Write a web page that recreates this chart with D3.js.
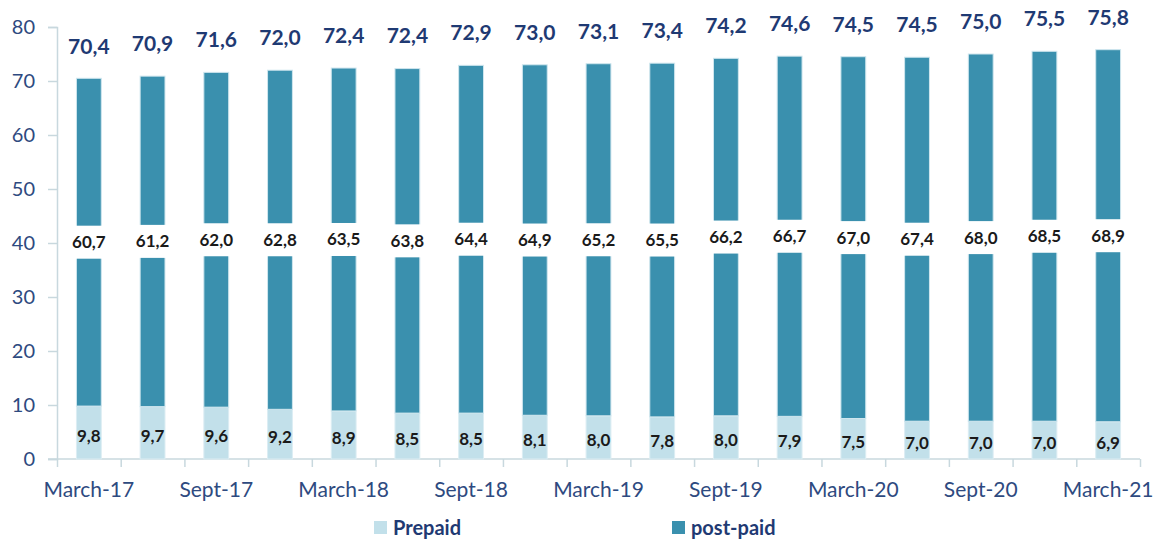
<!doctype html>
<html lang="en">
<head>
<meta charset="utf-8">
<title>Prepaid vs post-paid</title>
<script src="https://d3js.org/d3.v7.min.js"></script>
<style>
  body { margin: 0; background: #fff; }
  text { font-family: Lato, "Open Sans", sans-serif; }
</style>
</head>
<body>
<svg id="chart" width="1163" height="543"></svg>
<script>
// data
var periods = ["March-17","June-17","Sept-17","Dec-17","March-18","June-18","Sept-18","Dec-18",
               "March-19","June-19","Sept-19","Dec-19","March-20","June-20","Sept-20","Dec-20","March-21"];
var prepaid  = [9.8, 9.7, 9.6, 9.2, 8.9, 8.5, 8.5, 8.1, 8.0, 7.8, 8.0, 7.9, 7.5, 7.0, 7.0, 7.0, 6.9];
var postpaid = [60.7, 61.2, 62.0, 62.8, 63.5, 63.8, 64.4, 64.9, 65.2, 65.5, 66.2, 66.7, 67.0, 67.4, 68.0, 68.5, 68.9];
var totals   = [70.4, 70.9, 71.6, 72.0, 72.4, 72.4, 72.9, 73.0, 73.1, 73.4, 74.2, 74.6, 74.5, 74.5, 75.0, 75.5, 75.8];
var yTicks = [0, 10, 20, 30, 40, 50, 60, 70, 80];
var seriesNames = ["Prepaid", "post-paid"];

var colPre = "#c2e0ea", colPost = "#3a90ae";
var navy = "#1f3a73", axisTxt = "#2e4a80", axisLine = "#c8d8de";

var svg = d3.select("#chart");
var x0 = 57, x1 = 1140, yTop = 27, yBot = 459;

var x = d3.scaleBand().domain(periods).range([x0, x1]).paddingInner(0.61).paddingOuter(0.305);
var xb = d3.scaleLinear().domain([0, periods.length]).range([x0, x1]);
var y = d3.scaleLinear().domain([0, 80]).range([yBot, yTop]);

var fmt = function(v) { return d3.format(".1f")(v).replace(".", ","); };

// y axis
var gy = svg.append("g")
    .attr("transform", "translate(" + x0 + ",0)")
    .call(d3.axisLeft(y).tickValues(yTicks).tickSize(9).tickPadding(13));
gy.select(".domain").attr("stroke", axisLine).attr("stroke-width", 1.5);
gy.selectAll(".tick line").attr("stroke", axisLine).attr("stroke-width", 1.5);
gy.selectAll(".tick text").attr("fill", axisTxt).style("font-size", "20px");

// x axis: ticks on category boundaries
var gx = svg.append("g")
    .attr("transform", "translate(0," + yBot + ")")
    .call(d3.axisBottom(xb).tickValues(d3.range(periods.length + 1)).tickSize(8).tickFormat(""));
gx.select(".domain").attr("stroke", axisLine).attr("stroke-width", 1.5)
    .attr("d", "M" + (x0 - 9) + ",0H" + x1);
gx.selectAll(".tick line").attr("stroke", axisLine).attr("stroke-width", 1.5);

svg.append("g").selectAll("text")
    .data(periods.filter(function(d, i) { return i % 2 == 0; }))
    .enter().append("text")
    .attr("x", function(d) { return x(d) + x.bandwidth() / 2; })
    .attr("y", yBot + 38)
    .attr("text-anchor", "middle")
    .attr("fill", axisTxt)
    .style("font-size", "21px")
    .text(function(d) { return d; });

var bw = x.bandwidth();

// prepaid bars
svg.append("g").selectAll("rect")
    .data(periods).enter().append("rect")
    .attr("x", function(d) { return x(d); })
    .attr("y", function(d, i) { return y(prepaid[i]); })
    .attr("width", bw)
    .attr("height", function(d, i) { return y(0) - y(prepaid[i]); })
    .attr("fill", colPre)
    .attr("stroke", "#dcedf3").attr("stroke-width", 1);

// post-paid bars
svg.append("g").selectAll("rect")
    .data(periods).enter().append("rect")
    .attr("x", function(d) { return x(d); })
    .attr("y", function(d, i) { return y(prepaid[i] + postpaid[i]); })
    .attr("width", bw)
    .attr("height", function(d, i) { return y(prepaid[i]) - y(prepaid[i] + postpaid[i]); })
    .attr("fill", colPost)
    .attr("stroke", "#cfe6ee").attr("stroke-width", 1);

// post-paid labels with white box
var mid = function(i) { return y(prepaid[i] + postpaid[i] / 2); };
var lab = svg.append("g").selectAll("g")
    .data(periods).enter().append("g");
lab.append("rect")
    .attr("x", function(d) { return x(d) - 14; })
    .attr("y", function(d, i) { return mid(i) - 16.5; })
    .attr("width", bw + 28)
    .attr("height", 33)
    .attr("fill", "#fff");
lab.append("text")
    .attr("x", function(d) { return x(d) + bw / 2; })
    .attr("y", function(d, i) { return mid(i) + 6; })
    .attr("text-anchor", "middle")
    .attr("fill", "#1a1a1a")
    .style("font-size", "17px").style("font-weight", "bold")
    .text(function(d, i) { return fmt(postpaid[i]); });

// prepaid labels
svg.append("g").selectAll("text")
    .data(periods).enter().append("text")
    .attr("x", function(d) { return x(d) + bw / 2; })
    .attr("y", function(d, i) { return y(prepaid[i] / 2) + 9; })
    .attr("text-anchor", "middle")
    .attr("fill", "#1a1a1a")
    .style("font-size", "17px").style("font-weight", "bold")
    .text(function(d, i) { return fmt(prepaid[i]); });

// total labels
svg.append("g").selectAll("text")
    .data(periods).enter().append("text")
    .attr("x", function(d) { return x(d) + bw / 2; })
    .attr("y", function(d, i) { return y(totals[i]) - 25; })
    .attr("text-anchor", "middle")
    .attr("fill", navy)
    .style("font-size", "21px").style("font-weight", "bold")
    .text(function(d, i) { return fmt(totals[i]); });

// legend
var legX = [374, 672];
var leg = svg.append("g").selectAll("g")
    .data(seriesNames).enter().append("g")
    .attr("transform", function(d, i) { return "translate(" + legX[i] + ",521)"; });
leg.append("rect")
    .attr("width", 13).attr("height", 13)
    .attr("fill", function(d, i) { return i == 0 ? colPre : colPost; });
leg.append("text")
    .attr("x", 19).attr("y", 14)
    .attr("fill", navy)
    .style("font-size", "20px").style("font-weight", "bold")
    .text(function(d) { return d; });
</script>
</body>
</html>
